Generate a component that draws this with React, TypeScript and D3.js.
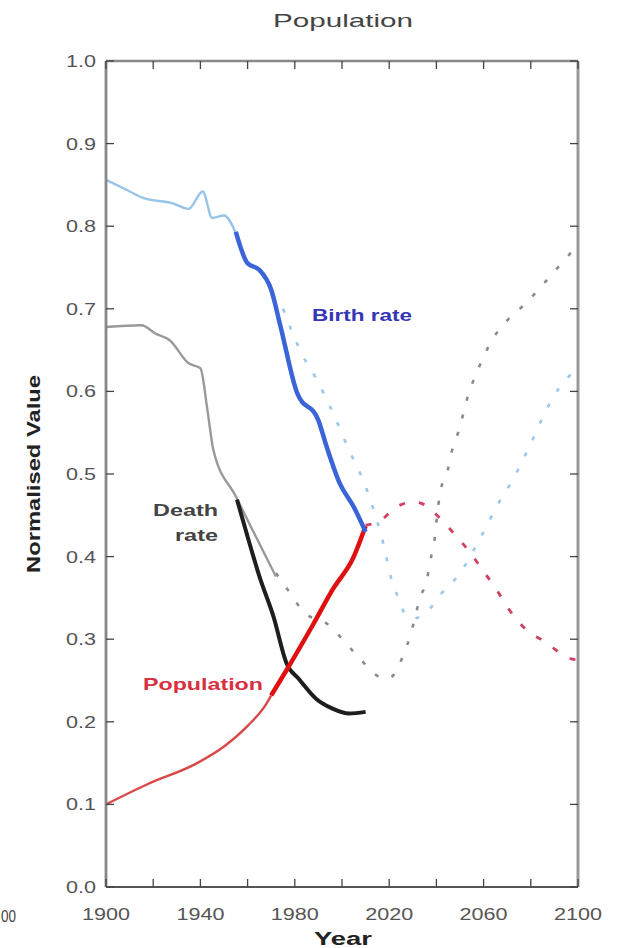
import React from "react";
import * as d3 from "d3";

type P = [number, number];

const xTickYears = [1900, 1920, 1940, 1960, 1980, 2000, 2020, 2040, 2060, 2080, 2100];
const xLabelYears = [1900, 1940, 1980, 2020, 2060, 2100];
const yTicks = [0, 0.1, 0.2, 0.3, 0.4, 0.5, 0.6, 0.7, 0.8, 0.9, 1.0];

const birthHist: P[] = [[1900,0.856],[1908,0.845],[1916,0.834],[1928,0.828],[1935,0.821],[1941,0.842],[1945,0.810],[1950,0.813],[1955,0.792]];
const birthObs: P[] = [[1955,0.793],[1960,0.755],[1965,0.747],[1970,0.723],[1974,0.678],[1981,0.598],[1990,0.565],[1993.5,0.533],[1999,0.489],[2005,0.46],[2010,0.43]];
const birthProj: P[] = [[1975,0.700],[1983.6,0.642],[1988.6,0.618],[1996,0.575],[2003,0.529],[2010,0.485],[2013,0.46],[2017.5,0.416],[2021,0.372],[2024,0.349],[2027,0.329],[2030,0.325],[2036,0.333],[2042,0.355],[2050,0.38],[2058.5,0.422],[2067,0.468],[2072,0.491],[2080,0.537],[2087,0.58],[2092,0.604],[2100,0.628]];

const deathHist: P[] = [[1900,0.678],[1915,0.680],[1921,0.670],[1927,0.662],[1935,0.634],[1940,0.628],[1943,0.577],[1945.5,0.529],[1955,0.473],[1972,0.376]];
const deathObs: P[] = [[1955.5,0.469],[1960,0.424],[1965,0.376],[1971,0.327],[1976.5,0.271],[1982,0.251],[1989,0.228],[1996,0.216],[2003,0.210],[2010,0.212]];
const deathProj: P[] = [[1972,0.38],[1978,0.356],[1984,0.332],[1993.5,0.319],[2000.5,0.299],[2008,0.275],[2016,0.254],[2019,0.252],[2022.5,0.259],[2026,0.281],[2029,0.305],[2031,0.327],[2033,0.35],[2036,0.372],[2037.3,0.394],[2039,0.416],[2040.8,0.462],[2042.2,0.485],[2045,0.507],[2046.5,0.527],[2049.3,0.551],[2051.4,0.573],[2053.5,0.596],[2056.4,0.618],[2060,0.642],[2064,0.664],[2070,0.686],[2078,0.707],[2085,0.729],[2100,0.778]];

const popHist: P[] = [[1900,0.100],[1918,0.125],[1938,0.149],[1950,0.170],[1960,0.195],[1968,0.222],[1970,0.232]];
const popObs: P[] = [[1970,0.232],[1976.6,0.263],[1988,0.319],[1996,0.36],[2005,0.40],[2010,0.437]];
const popProj: P[] = [[2010,0.438],[2016,0.443],[2023,0.46],[2030,0.466],[2033,0.465],[2041,0.448],[2048,0.426],[2054,0.406],[2060,0.382],[2065.5,0.36],[2071,0.335],[2077.5,0.313],[2087,0.295],[2096,0.277],[2100,0.275]];

const FONT = "'Liberation Sans', Arial, Helvetica, sans-serif";

export default function App() {
  const W = 619, H = 948;
  const left = 106, right = 578, top = 61, bottom = 887;
  const x = d3.scaleLinear().domain([1900, 2100]).range([left, right]);
  const y = d3.scaleLinear().domain([0, 1]).range([bottom, top]);
  const line = d3.line<P>().x(d => x(d[0])).y(d => y(d[1])).curve(d3.curveMonotoneX);

  return (
    <svg width={W} height={H} style={{ position: "absolute", left: 0, top: 0, background: "#fff" }} fontFamily={FONT}>
      <text x={343} y={27} textAnchor="middle" fontSize={19} fill="#444" textLength={140} lengthAdjust="spacingAndGlyphs">Population</text>

      {/* projections */}
      <path d={line(deathProj)!} fill="none" stroke="#8a8a8a" strokeWidth={2.6} strokeDasharray="4 14" />
      <path d={line(birthProj)!} fill="none" stroke="#9cc6ea" strokeWidth={2.6} strokeDasharray="4 14" />
      <path d={line(popProj)!} fill="none" stroke="#d04060" strokeWidth={2.8} strokeDasharray="6 14" />

      {/* history */}
      <path d={line(birthHist)!} fill="none" stroke="#99c4ea" strokeWidth={2.4} />
      <path d={line(deathHist)!} fill="none" stroke="#999" strokeWidth={2.4} />
      <path d={line(popHist)!} fill="none" stroke="#d84848" strokeWidth={2.4} />

      {/* observed */}
      <path d={line(deathObs)!} fill="none" stroke="#1e1e1e" strokeWidth={4} />
      <path d={line(popObs)!} fill="none" stroke="#e01010" strokeWidth={4.5} />
      <path d={line(birthObs)!} fill="none" stroke="#3a64d8" strokeWidth={4.5} />

      {/* frame */}
      <line x1={left} x2={right} y1={top} y2={top} stroke="#888" strokeWidth={2.5} />
      <line x1={left} x2={right} y1={bottom} y2={bottom} stroke="#555" strokeWidth={2} />
      <line x1={left} x2={left} y1={top} y2={bottom} stroke="#888" strokeWidth={2.8} />
      <line x1={right} x2={right} y1={top} y2={bottom} stroke="#999" strokeWidth={3} />

      {xTickYears.map(t => (
        <g key={"xt" + t}>
          <line x1={x(t)} x2={x(t)} y1={bottom} y2={bottom - 8} stroke="#444" strokeWidth={1.3} />
          <line x1={x(t)} x2={x(t)} y1={top} y2={top + 8} stroke="#444" strokeWidth={1.3} />
        </g>
      ))}
      {yTicks.map(t => (
        <g key={"yt" + t}>
          <line x1={left} x2={left + 8} y1={y(t)} y2={y(t)} stroke="#444" strokeWidth={1.3} />
          <line x1={right} x2={right - 8} y1={y(t)} y2={y(t)} stroke="#444" strokeWidth={1.3} />
          <text x={96} y={y(t) + 6} textAnchor="end" fontSize={16} fill="#555" textLength={30} lengthAdjust="spacingAndGlyphs">{t.toFixed(1)}</text>
        </g>
      ))}
      {xLabelYears.map(t => (
        <text key={"xl" + t} x={x(t)} y={920} textAnchor="middle" fontSize={16} fill="#555" textLength={48} lengthAdjust="spacingAndGlyphs">{t}</text>
      ))}
      <text x={1} y={922} textAnchor="start" fontSize={16} fill="#444" textLength={15} lengthAdjust="spacingAndGlyphs">00</text>

      <text x={343} y={945} textAnchor="middle" fontSize={18} fontWeight="bold" fill="#222" textLength={58} lengthAdjust="spacingAndGlyphs">Year</text>
      <text transform="translate(40,474) rotate(-90)" textAnchor="middle" fontSize={19} fontWeight="bold" fill="#222" textLength={198} lengthAdjust="spacingAndGlyphs">Normalised Value</text>

      <text x={362} y={321} textAnchor="middle" fontSize={17} fontWeight="bold" fill="#3535b8" textLength={100} lengthAdjust="spacingAndGlyphs">Birth rate</text>
      <text x={218} y={516} textAnchor="end" fontSize={17} fontWeight="bold" fill="#444" textLength={65} lengthAdjust="spacingAndGlyphs">Death</text>
      <text x={218} y={541} textAnchor="end" fontSize={17} fontWeight="bold" fill="#444" textLength={43} lengthAdjust="spacingAndGlyphs">rate</text>
      <text x={203} y={690} textAnchor="middle" fontSize={17} fontWeight="bold" fill="#d83040" textLength={120} lengthAdjust="spacingAndGlyphs">Population</text>
    </svg>
  );
}
